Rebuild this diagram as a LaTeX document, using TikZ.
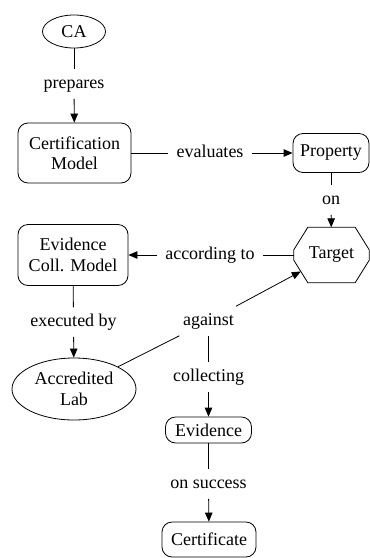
\documentclass[tikz,border=0pt]{standalone}
\usepackage{fontspec}
\setmainfont{Liberation Serif}
\usetikzlibrary{arrows.meta,shapes.geometric}
\tikzset{
  every node/.style={font=\fontsize{18}{20.5}\selectfont},
  ln/.style={line width=0.8pt, draw=black},
  arr/.style={ln, -{Triangle[length=9pt,width=7.5pt]}},
  oval/.style={ln, ellipse, inner sep=0pt, align=center},
  rbox/.style={ln, rectangle, rounded corners=10pt, inner sep=0pt, align=center},
  hexa/.style={rectangle, inner sep=0pt, minimum width=75pt, minimum height=55pt},
  lbl/.style={inner xsep=8pt, inner ysep=6pt, text height=12.6pt, text depth=4.5pt}
}
\begin{document}
\begin{tikzpicture}[x=1pt,y=-1pt]
\useasboundingbox (0,0) rectangle (370,558);
% main nodes
\node[oval, minimum width=63pt, minimum height=33pt] (CA) at (74,31.5) {CA};
\node[rbox, minimum width=113pt, minimum height=60pt] (Cert) at (74.5,153) {Certification\\Model};
\node[rbox, minimum width=76pt, minimum height=39pt] (P) at (331,153) {Property};
\node[hexa] (T) at (331.5,255) {Target};
\draw[ln] ([xshift=14pt]T.north west) -- ([xshift=-14pt]T.north east)
  -- ([yshift=-22.5pt]T.north east) -- ([yshift=22.5pt]T.south east)
  -- ([xshift=-14pt]T.south east) -- ([xshift=14pt]T.south west)
  -- ([yshift=22.5pt]T.south west) -- ([yshift=-22.5pt]T.north west) -- cycle;
\coordinate (Tin) at ([xshift=7pt,yshift=11.25pt]T.south west);
\node[rbox, minimum width=110pt, minimum height=61pt] (ECM) at (73,255) {Evidence\\Coll. Model};
\node[oval, minimum width=124pt, minimum height=62pt] (Lab) at (74,389) {Accredited\\Lab};
\node[rbox, minimum width=86pt, minimum height=26pt] (Ev) at (208.5,430) {Evidence};
\node[rbox, minimum width=94pt, minimum height=35pt] (Cf) at (209,539.5) {Certificate};
% label nodes
\node[lbl] (prep) at (74,84) {prepares};
\node[lbl] (eval) at (210,153) {evaluates};
\node[lbl] (on) at (331,200) {on};
\node[lbl] (acc) at (210,255) {according to};
\node[lbl] (exec) at (73.5,322) {executed by};
\node[lbl] (ag) at (208.5,321) {against};
\node[lbl] (coll) at (208.5,377) {collecting};
\node[lbl] (succ) at (208.5,484) {on success};
% connectors
\draw[ln] (CA) -- (prep);
\draw[arr] (prep) -- (Cert);
\draw[ln] (Cert) -- (eval);
\draw[arr] (eval) -- (P);
\draw[ln] (P) -- (on);
\draw[arr] (on) -- (T);
\draw[ln] (T) -- (acc);
\draw[arr] (acc) -- (ECM);
\draw[ln] (ECM) -- (exec);
\draw[arr] (exec) -- (Lab);
\draw[ln] (Lab) -- (ag);
\draw[arr] (ag) -- (Tin);
\draw[ln] (ag) -- (coll);
\draw[arr] (coll) -- (Ev);
\draw[ln] (Ev) -- (succ);
\draw[arr] (succ) -- (Cf);
\end{tikzpicture}
\end{document}
